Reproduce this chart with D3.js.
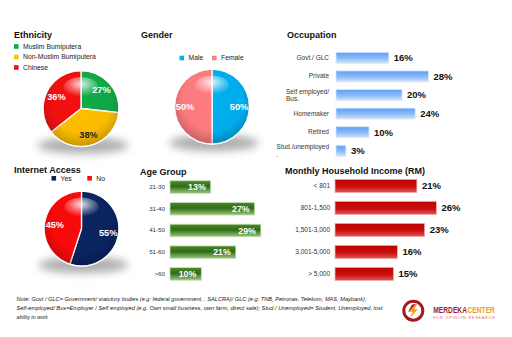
<!DOCTYPE html>
<html>
<head>
<meta charset="utf-8">
<script src="https://cdn.jsdelivr.net/npm/d3@7"></script>
<style>
  html, body { margin: 0; padding: 0; background: #fff; }
  svg { display: block; font-family: "Liberation Sans", Arial, sans-serif; }
</style>
</head>
<body>
<svg id="chart" width="512" height="337"></svg>
<script>
// ---- Survey profile data ----
const ethnicityLabels = ["Muslim Bumiputera", "Non-Muslim Bumiputera", "Chinese"];
const ethnicityValues = [27, 38, 36];
const ethnicityColors = ["#10aa48", "#ffbf00", "#f41010"];

const genderLabels = ["Male", "Female"];
const genderValues = [50, 50];
const genderColors = ["#00b0f0", "#ff7c80"];

const internetLabels = ["Yes", "No"];
const internetValues = [55, 45];
const internetColors = ["#0b2461", "#fb0a0a"];

const occupationLabels = ["Govt./ GLC", "Private", "Self employed/\nBus.", "Homemaker", "Retired", "Stud./unemployed\n."];
const occupationValues = [16, 28, 20, 24, 10, 3];

const ageLabels = ["21-30", "31-40", "41-50", "51-60", ">60"];
const ageValues = [13, 27, 29, 21, 10];

const incomeLabels = ["< 801", "801-1,500", "1,501-3,000", "3,001-5,000", "> 5,000"];
const incomeValues = [21, 26, 23, 16, 15];

const noteLines = [
  "Note: Govt / GLC= Government/ statutory bodies (e.g: federal government, , SALCRA)/ GLC (e.g: TNB, Petronas, Telekom, MAS, Maybank);",
  "Self-employed/ Bus=Employer / Self employed (e.g. Own small business, own farm, direct sale); Stud / Unemployed= Student, Unemployed, lost",
  "ability to work"
];

const svg = d3.select("#chart");
svg.append("rect").attr("width", 512).attr("height", 337).attr("fill", "#fff");

// ---- Shared gradients / filters ----
const defs = svg.append("defs");

const shade = defs.append("radialGradient").attr("id", "sphereShade")
  .attr("cx", "50%").attr("cy", "42%").attr("r", "58%");
shade.append("stop").attr("offset", "0%").attr("stop-color", "#000").attr("stop-opacity", 0);
shade.append("stop").attr("offset", "70%").attr("stop-color", "#000").attr("stop-opacity", 0.02);
shade.append("stop").attr("offset", "100%").attr("stop-color", "#000").attr("stop-opacity", 0.22);

const gloss = defs.append("radialGradient").attr("id", "gloss")
  .attr("cx", "50%").attr("cy", "35%").attr("r", "60%");
gloss.append("stop").attr("offset", "0%").attr("stop-color", "#fff").attr("stop-opacity", 0.85);
gloss.append("stop").attr("offset", "55%").attr("stop-color", "#fff").attr("stop-opacity", 0.35);
gloss.append("stop").attr("offset", "100%").attr("stop-color", "#fff").attr("stop-opacity", 0);

const blur = defs.append("filter").attr("id", "shadowBlur")
  .attr("x", "-50%").attr("y", "-100%").attr("width", "200%").attr("height", "300%");
blur.append("feGaussianBlur").attr("stdDeviation", 4);

function vGrad(id, stops) {
  const g = defs.append("linearGradient").attr("id", id)
    .attr("x1", 0).attr("y1", 0).attr("x2", 0).attr("y2", 1);
  stops.forEach(([o, c]) => g.append("stop").attr("offset", o).attr("stop-color", c));
}
vGrad("occGrad", [["0%", "#5c9ffb"], ["55%", "#8dbcf7"], ["100%", "#d4e3f6"]]);
vGrad("ageGrad", [["0%", "#4a8a2a"], ["45%", "#2f6c14"], ["100%", "#9cc780"]]);
vGrad("incGrad", [["0%", "#bf0000"], ["55%", "#c80f0f"], ["100%", "#e25a5a"]]);

// ---- Helpers ----
function title(x, y, text) {
  svg.append("text").attr("x", x).attr("y", y)
    .attr("font-size", 9).attr("font-weight", "bold").attr("fill", "#111")
    .text(text);
}

function legendItem(x, y, color, text) {
  svg.append("rect").attr("x", x).attr("y", y - 2.3).attr("width", 4.6).attr("height", 4.6).attr("fill", color);
  svg.append("text").attr("x", x + 9).attr("y", y).attr("dy", "0.35em")
    .attr("font-size", 6.8).attr("fill", "#222").text(text);
}

function drawPie(cx, cy, r, values, colors, labelColors) {
  // soft floor shadow
  svg.append("ellipse").attr("cx", cx + 2).attr("cy", cy + r - 1)
    .attr("rx", r * 1.2).attr("ry", 8)
    .attr("fill", "#6a6a6a").attr("opacity", 0.55)
    .attr("filter", "url(#shadowBlur)");

  const g = svg.append("g").attr("transform", `translate(${cx},${cy})`);
  const arcs = d3.pie().sort(null).value(d => d)(values);
  const arc = d3.arc().innerRadius(0).outerRadius(r);
  const labelArc = d3.arc().innerRadius(r * 0.72).outerRadius(r * 0.72);

  g.selectAll("path.slice").data(arcs).join("path")
    .attr("class", "slice")
    .attr("d", arc)
    .attr("fill", (d, i) => colors[i])
    .attr("stroke", "#fff").attr("stroke-width", 1.3);

  g.append("circle").attr("r", r).attr("fill", "url(#sphereShade)");
  g.append("ellipse").attr("cx", 0).attr("cy", -r * 0.56)
    .attr("rx", r * 0.46).attr("ry", r * 0.27)
    .attr("fill", "url(#gloss)");
  g.append("circle").attr("r", r).attr("fill", "none")
    .attr("stroke", "#fff").attr("stroke-opacity", 0.75).attr("stroke-width", 1.4);

  g.selectAll("text.val").data(arcs).join("text")
    .attr("class", "val")
    .attr("transform", d => `translate(${labelArc.centroid(d)})`)
    .attr("text-anchor", "middle").attr("dy", "0.35em")
    .attr("font-size", 9.2).attr("font-weight", "bold")
    .attr("fill", (d, i) => labelColors[i])
    .text(d => d.data + "%");
}

function drawBars(o) {
  const x = d3.scaleLinear().domain([0, 30]).range([o.x0, o.x1]);
  const y = d3.scaleBand().domain(o.labels).range([o.y0, o.y1])
    .paddingInner(o.pad).paddingOuter(o.pad / 2);
  const g = svg.append("g");

  g.selectAll("rect.bar").data(o.values).join("rect")
    .attr("class", "bar")
    .attr("x", x(0))
    .attr("y", (d, i) => y(o.labels[i]))
    .attr("width", d => x(d) - x(0))
    .attr("height", y.bandwidth())
    .attr("fill", o.fill)
    .attr("stroke", o.stroke).attr("stroke-width", 0.8);

  const axis = g.append("g").attr("transform", `translate(${x(0)},0)`)
    .call(d3.axisLeft(y).tickSize(0).tickPadding(o.tickPad));
  axis.select(".domain").remove();
  axis.selectAll("text")
    .attr("font-size", o.labelSize).attr("fill", "#333")
    .attr("font-family", "\"Liberation Sans\", Arial, sans-serif")
    .each(function (d) {
      const lines = d.split("\n");
      if (lines.length < 2) return;
      const t = d3.select(this);
      t.text(lines[0]);
      const w = this.getComputedTextLength();
      const left = -o.tickPad - w;
      t.text(null).attr("text-anchor", "start").attr("x", left).attr("dy", null);
      lines.forEach((line, k) => {
        t.append("tspan").attr("x", left)
          .attr("y", (k === 0 ? -3.6 : 3.6))
          .attr("dy", "0.35em").text(line);
      });
    });

  g.selectAll("text.val").data(o.values).join("text")
    .attr("class", "val")
    .attr("x", d => o.inside ? x(d) - 5 : x(d) + 5)
    .attr("y", (d, i) => y(o.labels[i]) + y.bandwidth() / 2)
    .attr("dy", "0.36em")
    .attr("text-anchor", o.inside ? "end" : "start")
    .attr("font-size", o.valueSize).attr("font-weight", "bold")
    .attr("fill", o.valueColor)
    .text(d => d + "%");
}

// ---- Ethnicity ----
title(14, 38.3, "Ethnicity");
ethnicityLabels.forEach((l, i) => legendItem(14, 46.5 + i * 10.5, ethnicityColors[i], l));
drawPie(81, 108.5, 38, ethnicityValues, ethnicityColors, ["#fff", "#222", "#fff"]);

// ---- Gender ----
title(141, 38.3, "Gender");
legendItem(179.5, 58, genderColors[0], genderLabels[0]);
legendItem(212, 58, genderColors[1], genderLabels[1]);
drawPie(212, 106.5, 37.5, genderValues, genderColors, ["#fff", "#fff"]);

// ---- Internet Access ----
title(14, 173.3, "Internet Access");
legendItem(51.5, 178.3, internetColors[0], internetLabels[0]);
legendItem(87.3, 178.3, internetColors[1], internetLabels[1]);
drawPie(81.5, 228.5, 37.5, internetValues, internetColors, ["#fff", "#fff"]);

// ---- Occupation ----
title(287, 38.3, "Occupation");
drawBars({
  labels: occupationLabels, values: occupationValues,
  x0: 336, x1: 435, y0: 48.5, y1: 160.1, pad: 0.41, tickPad: 7,
  fill: "url(#occGrad)", stroke: "#dce8f8", labelSize: 6.5,
  inside: false, valueSize: 9.5, valueColor: "#111"
});

// ---- Age Group ----
title(140, 175.3, "Age Group");
drawBars({
  labels: ageLabels, values: ageValues,
  x0: 170, x1: 264, y0: 176.2, y1: 284.8, pad: 0.42, tickPad: 5,
  fill: "url(#ageGrad)", stroke: "#c9dfb8", labelSize: 6.2,
  inside: true, valueSize: 8.8, valueColor: "#fff"
});

// ---- Monthly Household Income ----
title(285, 174.3, "Monthly Household Income (RM)");
drawBars({
  labels: incomeLabels, values: incomeValues,
  x0: 335, x1: 452, y0: 175, y1: 285, pad: 0.395, tickPad: 5,
  fill: "url(#incGrad)", stroke: "#f0b4b4", labelSize: 6.5,
  inside: false, valueSize: 9.5, valueColor: "#111"
});

// ---- Footnote ----
const noteWidths = [350, 366, null];
noteLines.forEach((line, i) => {
  const t = svg.append("text").attr("x", 16.5).attr("y", 301.3 + i * 8.6)
    .attr("font-size", 5.2).attr("font-style", "italic").attr("fill", "#222")
    .text(line);
  if (noteWidths[i]) t.attr("textLength", noteWidths[i]).attr("lengthAdjust", "spacingAndGlyphs");
});

// ---- Merdeka Center mark ----
const logo = svg.append("g").attr("transform", "translate(413.3,310.7)");
logo.append("circle").attr("r", 9.5).attr("fill", "#fff").attr("stroke", "#a3191f").attr("stroke-width", 3);
logo.append("path").attr("d", "M2.5,-7 L-4.5,1 L-0.5,1 L-3.5,7.5 L4.5,-1.5 L0.8,-1.5 L4,-7 Z")
  .attr("fill", "#f39a1e");
logo.append("path").attr("d", "M-1.5,-6 L-5,1 L-4.5,1 L2.5,-7 Z").attr("fill", "#a3191f");

// wordmark: set at natural width, then squeezed horizontally into place
const brandWidth = 61.7;
const brand = svg.append("g");
const w1 = brand.append("text").attr("x", 0).attr("y", 0)
  .attr("font-size", 9).attr("font-weight", "bold").attr("fill", "#a3191f").text("MERDEKA");
const len1 = w1.node().getComputedTextLength();
const w2 = brand.append("text").attr("x", len1 + 0.6).attr("y", 0)
  .attr("font-size", 9).attr("font-weight", "bold").attr("fill", "#f39a1e").text("CENTER");
const len2 = w2.node().getComputedTextLength();
brand.attr("transform", `translate(433.3,312.6) scale(${brandWidth / (len1 + len2 + 0.6)},1)`);

svg.append("text").attr("x", 433.3).attr("y", 318.6)
  .attr("font-size", 3.9).attr("fill", "#d96b6b")
  .attr("textLength", 61.5).attr("lengthAdjust", "spacing").text("FOR OPINION RESEARCH");
</script>
</body>
</html>
